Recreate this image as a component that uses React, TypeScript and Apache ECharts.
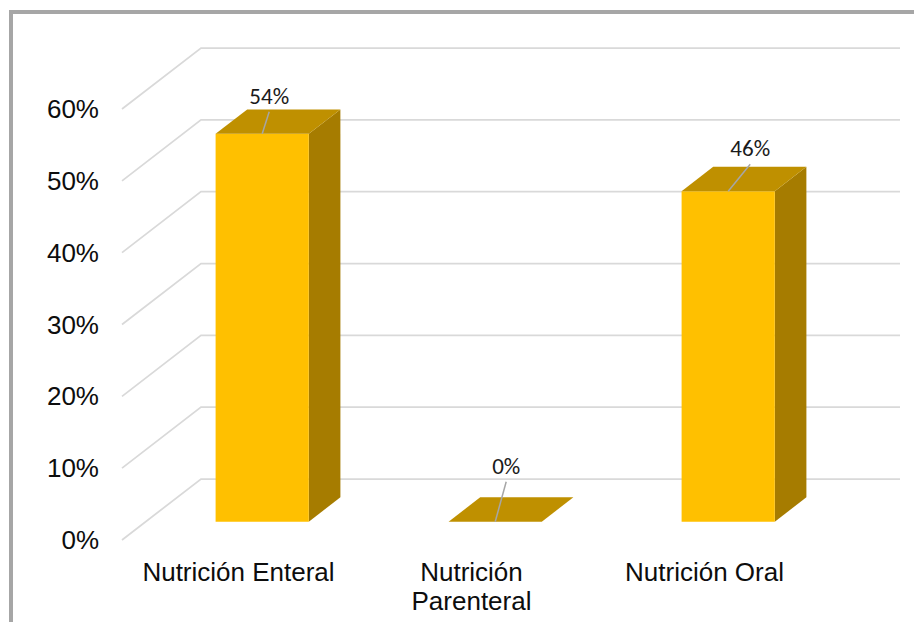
import React, { useEffect, useRef } from "react";
import * as echarts from "echarts";

// Share of patients by feeding route
const categories = ["Nutrición Enteral", "Nutrición\nParenteral", "Nutrición Oral"];
const shares = [0.54, 0, 0.46];
const valueTicks = [0, 0.1, 0.2, 0.3, 0.4, 0.5, 0.6];

// Where each value label's leader line ends, relative to the bar's top front edge
const leaderEnds = [
  [7, -22],
  [11, -40],
  [22, -27],
];

// Oblique projection of the floor depth
const DEPTH_X = 79;
const DEPTH_Y = -61;
const BAR_FRONT = 0.3;
const BAR_BACK = 0.7;

const FRONT = "#FFC000";
const TOP = "#BF9000";
const SIDE = "#A67C00";
const GRID = "#d9d9d9";
const LEADER = "#a6a6a6";

const pct = (v: number) => `${Math.round(v * 100)}%`;

export default function App() {
  const ref = useRef<HTMLDivElement>(null);

  useEffect(() => {
    if (!ref.current) return;
    const chart = echarts.init(ref.current, undefined, { renderer: "svg" });

    const wallSeries = {
      type: "custom",
      z: 1,
      clip: false,
      silent: true,
      data: valueTicks.map((v) => [0, v]),
      renderItem: (_params: any, api: any) => {
        const v = api.value(1);
        const band = api.size([1, 0])[0];
        const p = api.coord([0, v]);
        const xl = p[0] - band / 2;
        const xr = api.coord([categories.length - 1, v])[0] + band / 2;
        const y = p[1];
        return {
          type: "polyline",
          shape: {
            points: [
              [xl, y],
              [xl + DEPTH_X, y + DEPTH_Y],
              [xr + DEPTH_X, y + DEPTH_Y],
            ],
          },
          style: { stroke: GRID, lineWidth: 1.75, fill: "none" },
        };
      },
    };

    const barSeries = {
      type: "custom",
      z: 2,
      clip: false,
      silent: true,
      data: shares.map((v, i) => [i, v]),
      renderItem: (params: any, api: any) => {
        const i = api.value(0);
        const v = api.value(1);
        const band = api.size([1, 0])[0];
        const w = band * 0.4;
        const base = api.coord([i, 0]);
        const top = api.coord([i, v]);
        const fx = DEPTH_X * BAR_FRONT;
        const fy = DEPTH_Y * BAR_FRONT;
        const dx = DEPTH_X * (BAR_BACK - BAR_FRONT);
        const dy = DEPTH_Y * (BAR_BACK - BAR_FRONT);
        const x0 = base[0] - w / 2 + fx;
        const x1 = base[0] + w / 2 + fx;
        const yb = base[1] + fy;
        const yt = top[1] + fy;
        const cx = (x0 + x1) / 2;
        const end = leaderEnds[params.dataIndex];
        const ex = cx + end[0];
        const ey = yt + end[1];
        const children: any[] = [];
        if (yb - yt > 0.5) {
          children.push({
            type: "polygon",
            shape: {
              points: [
                [x1, yt],
                [x1 + dx, yt + dy],
                [x1 + dx, yb + dy],
                [x1, yb],
              ],
            },
            style: { fill: SIDE },
          });
          children.push({
            type: "rect",
            shape: { x: x0, y: yt, width: w, height: yb - yt },
            style: { fill: FRONT },
          });
        }
        children.push({
          type: "polygon",
          shape: {
            points: [
              [x0, yt],
              [x1, yt],
              [x1 + dx, yt + dy],
              [x0 + dx, yt + dy],
            ],
          },
          style: { fill: TOP },
        });
        children.push({
          type: "line",
          shape: { x1: cx, y1: yt, x2: ex, y2: ey },
          style: { stroke: LEADER, lineWidth: 1.5 },
        });
        children.push({
          type: "text",
          style: {
            text: pct(v),
            x: ex,
            y: ey - 16,
            align: "center",
            verticalAlign: "middle",
            fill: "#1a1a1a",
            fontSize: 23,
            fontFamily: "Calibri, Carlito, 'Open Sans', sans-serif",
          },
        });
        return { type: "group", children };
      },
    };

    chart.setOption({
      animation: false,
      backgroundColor: "#ffffff",
      grid: { left: 122, right: 93, top: 109, bottom: 82, containLabel: false },
      xAxis: {
        type: "category",
        data: categories,
        axisLine: { show: false },
        axisTick: { show: false },
        splitLine: { show: false },
        axisLabel: {
          interval: 0,
          margin: 17,
          fontSize: 26,
          lineHeight: 29,
          color: "#0d0d0d",
          fontFamily: "Arial, 'Liberation Sans', sans-serif",
        },
      },
      yAxis: {
        type: "value",
        min: 0,
        max: 0.6,
        interval: 0.1,
        axisLine: { show: false },
        axisTick: { show: false },
        splitLine: { show: false },
        axisLabel: {
          margin: 23,
          fontSize: 26,
          color: "#0d0d0d",
          fontFamily: "Arial, 'Liberation Sans', sans-serif",
          formatter: (v: number) => pct(v),
        },
      },
      graphic: [
        {
          type: "rect",
          silent: true,
          shape: { x: 9, y: 10, width: 905, height: 4 },
          style: { fill: "#a6a6a6" },
        },
        {
          type: "rect",
          silent: true,
          shape: { x: 9, y: 10, width: 4, height: 612 },
          style: { fill: "#a6a6a6" },
        },
      ],
      series: [wallSeries, barSeries],
    });

    return () => chart.dispose();
  }, []);

  return (
    <div
      ref={ref}
      style={{ position: "fixed", left: 0, top: 0, width: 914, height: 622 }}
    />
  );
}
